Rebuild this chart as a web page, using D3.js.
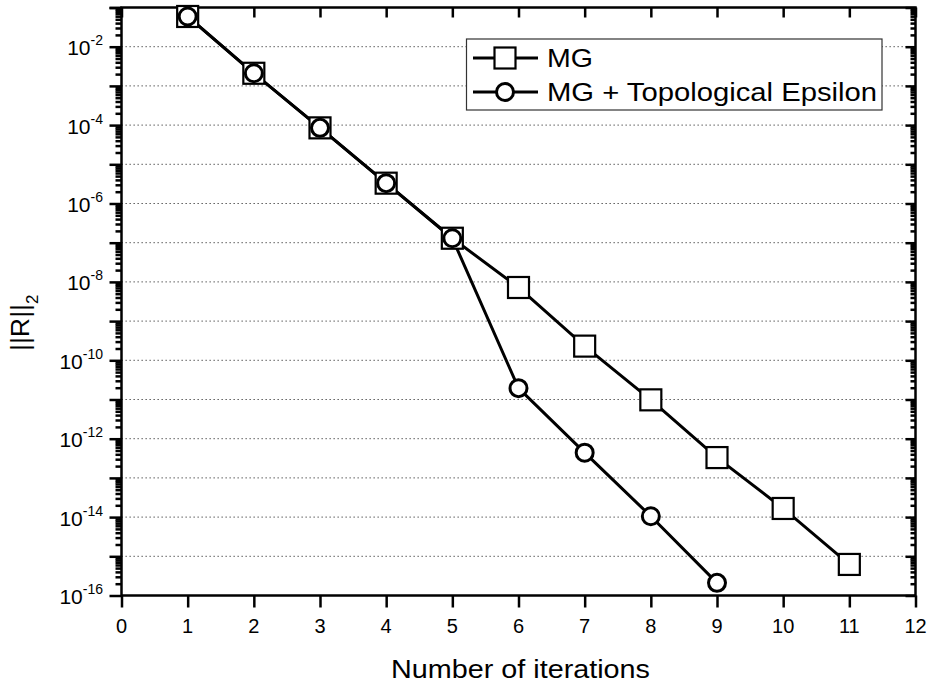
<!DOCTYPE html>
<html>
<head>
<meta charset="utf-8">
<script src="https://cdn.jsdelivr.net/npm/d3@7"></script>
<style>
  html, body { margin: 0; padding: 0; background: #fff; }
  svg { display: block; }
  text { font-family: "Liberation Sans", Arial, Helvetica, sans-serif; fill: #000; }
</style>
</head>
<body>
<svg id="chart" width="929" height="686"></svg>
<script>
// ---------------- data ----------------
const mgIter = [1, 2, 3, 4, 5, 6, 7, 8, 9, 10, 11];
const mgResidual = [5.9e-2, 2.1e-3, 8.5e-5, 3.3e-6, 1.3e-7, 7.2e-9, 2.3e-10, 9.8e-12, 3.3e-13, 1.66e-14, 6.2e-16];
const topoIter = [1, 2, 3, 4, 5, 6, 7, 8, 9];
const topoResidual = [5.9e-2, 2.1e-3, 8.5e-5, 3.3e-6, 1.3e-7, 1.95e-11, 4.4e-13, 1.05e-14, 2.1e-16];
const seriesNames = ["MG", "MG + Topological Epsilon"];
const xTicks = [0, 1, 2, 3, 4, 5, 6, 7, 8, 9, 10, 11, 12];
const yLabelExps = [-2, -4, -6, -8, -10, -12, -14, -16];
const xTitle = "Number of iterations";

// ---------------- layout ----------------
const svg = d3.select("#chart");
const L = 121.5, R = 915.5, T = 7.5, B = 595.5;
const x = d3.scaleLinear().domain([0, 12]).range([L, R]);
const y = d3.scaleLog().domain([1e-16, 1e-1]).range([B, T]);

const decades = d3.range(-16, 0).map(e => Math.pow(10, e));
const minors = [];
d3.range(-16, -1).forEach(e => { for (let m = 2; m <= 9; m++) minors.push(m * Math.pow(10, e)); });

// gridlines
svg.append("g").selectAll("line").data(decades.filter(d => d > 1.5e-16 && d < 0.5e-1)).join("line")
  .attr("x1", L).attr("x2", R)
  .attr("y1", d => y(d)).attr("y2", d => y(d))
  .attr("stroke", "#444").attr("stroke-width", 1).attr("stroke-dasharray", "1.3,2.7");

// left axis (outward ticks)
const leftMajor = d3.axisLeft(y).tickValues(decades.concat([1e-1])).tickSize(12).tickFormat("");
const leftMinor = d3.axisLeft(y).tickValues(minors).tickSize(6).tickFormat("");
[leftMajor, leftMinor].forEach(ax => {
  const g = svg.append("g").attr("transform", `translate(${L},0)`).call(ax);
  g.select(".domain").remove();
  g.selectAll("line").attr("stroke", "#000").attr("stroke-width", 2.5);
});
// right axis (inward ticks)
const rightMajor = d3.axisLeft(y).tickValues(decades).tickSize(10).tickFormat("");
const rightMinor = d3.axisLeft(y).tickValues(minors).tickSize(5).tickFormat("");
[rightMajor, rightMinor].forEach(ax => {
  const g = svg.append("g").attr("transform", `translate(${R},0)`).call(ax);
  g.select(".domain").remove();
  g.selectAll("line").attr("stroke", "#000").attr("stroke-width", 2.5);
});
// bottom axis (outward)
const gb = svg.append("g").attr("transform", `translate(0,${B})`)
  .call(d3.axisBottom(x).tickValues(xTicks).tickSize(12).tickFormat(""));
gb.select(".domain").remove();
gb.selectAll("line").attr("stroke", "#000").attr("stroke-width", 2.5);
// top axis (inward)
const gt = svg.append("g").attr("transform", `translate(0,${T})`)
  .call(d3.axisBottom(x).tickValues(xTicks).tickSize(10).tickFormat(""));
gt.select(".domain").remove();
gt.selectAll("line").attr("stroke", "#000").attr("stroke-width", 2.5);

// frame
svg.append("rect").attr("x", L).attr("y", T).attr("width", R - L).attr("height", B - T)
  .attr("fill", "none").attr("stroke", "#000").attr("stroke-width", 2.5);

// x tick labels
svg.append("g").selectAll("text").data(xTicks).join("text")
  .attr("x", d => x(d)).attr("y", 633)
  .attr("text-anchor", "middle").attr("font-size", 20)
  .text(d => d);

// y tick labels
const yl = svg.append("g").selectAll("text").data(yLabelExps).join("text")
  .attr("x", 103).attr("y", d => y(Math.pow(10, d)) + 8.5)
  .attr("text-anchor", "end").attr("font-size", 21);
yl.append("tspan").text("10");
yl.append("tspan").attr("dy", -10).attr("font-size", 14).text(d => "-" + Math.abs(d));

// axis titles
svg.append("text").attr("x", x(6.03)).attr("y", 678)
  .attr("text-anchor", "middle").attr("font-size", 25)
  .attr("textLength", 259).attr("lengthAdjust", "spacingAndGlyphs")
  .text(xTitle);

const yt = svg.append("text").attr("transform", "translate(29,351) rotate(-90)")
  .attr("font-size", 26);
yt.append("tspan").attr("textLength", 47).attr("lengthAdjust", "spacingAndGlyphs").text("||R||");
yt.append("tspan").attr("dy", 9).attr("font-size", 17).text("2");

// lines
const line = d3.line().x(d => x(d[0])).y(d => y(d[1]));
const mgData = mgIter.map((d, i) => [d, mgResidual[i]]);
const topoData = topoIter.map((d, i) => [d, topoResidual[i]]);

svg.append("path").datum(mgData).attr("d", line)
  .attr("fill", "none").attr("stroke", "#000").attr("stroke-width", 3);
svg.append("path").datum(topoData).attr("d", line)
  .attr("fill", "none").attr("stroke", "#000").attr("stroke-width", 3);

const sq = 21;
svg.append("g").selectAll("rect").data(mgData).join("rect")
  .attr("x", d => x(d[0]) - sq / 2).attr("y", d => y(d[1]) - sq / 2)
  .attr("width", sq).attr("height", sq)
  .attr("fill", "#fff").attr("stroke", "#000").attr("stroke-width", 2.2);
svg.append("g").selectAll("circle").data(topoData).join("circle")
  .attr("cx", d => x(d[0])).attr("cy", d => y(d[1])).attr("r", 8.5)
  .attr("fill", "#fff").attr("stroke", "#000").attr("stroke-width", 3);

// legend
const lg = svg.append("g");
lg.append("rect").attr("x", 466.5).attr("y", 39).attr("width", 415.5).attr("height", 71)
  .attr("fill", "#fff").attr("stroke", "#333").attr("stroke-width", 1.2);
const rows = [58, 92];
rows.forEach((ry, i) => {
  lg.append("line").attr("x1", 473).attr("x2", 538).attr("y1", ry).attr("y2", ry)
    .attr("stroke", "#000").attr("stroke-width", 3);
  if (i === 0) {
    lg.append("rect").attr("x", 505 - sq / 2).attr("y", ry - sq / 2).attr("width", sq).attr("height", sq)
      .attr("fill", "#fff").attr("stroke", "#000").attr("stroke-width", 2.2);
  } else {
    lg.append("circle").attr("cx", 505).attr("cy", ry).attr("r", 8.5)
      .attr("fill", "#fff").attr("stroke", "#000").attr("stroke-width", 3);
  }
  const t = lg.append("text").attr("x", 547).attr("y", ry + 9).attr("font-size", 25).text(seriesNames[i]);
  if (i === 1) t.attr("textLength", 330).attr("lengthAdjust", "spacingAndGlyphs");
  else t.attr("textLength", 46).attr("lengthAdjust", "spacingAndGlyphs");
});
</script>
</body>
</html>
